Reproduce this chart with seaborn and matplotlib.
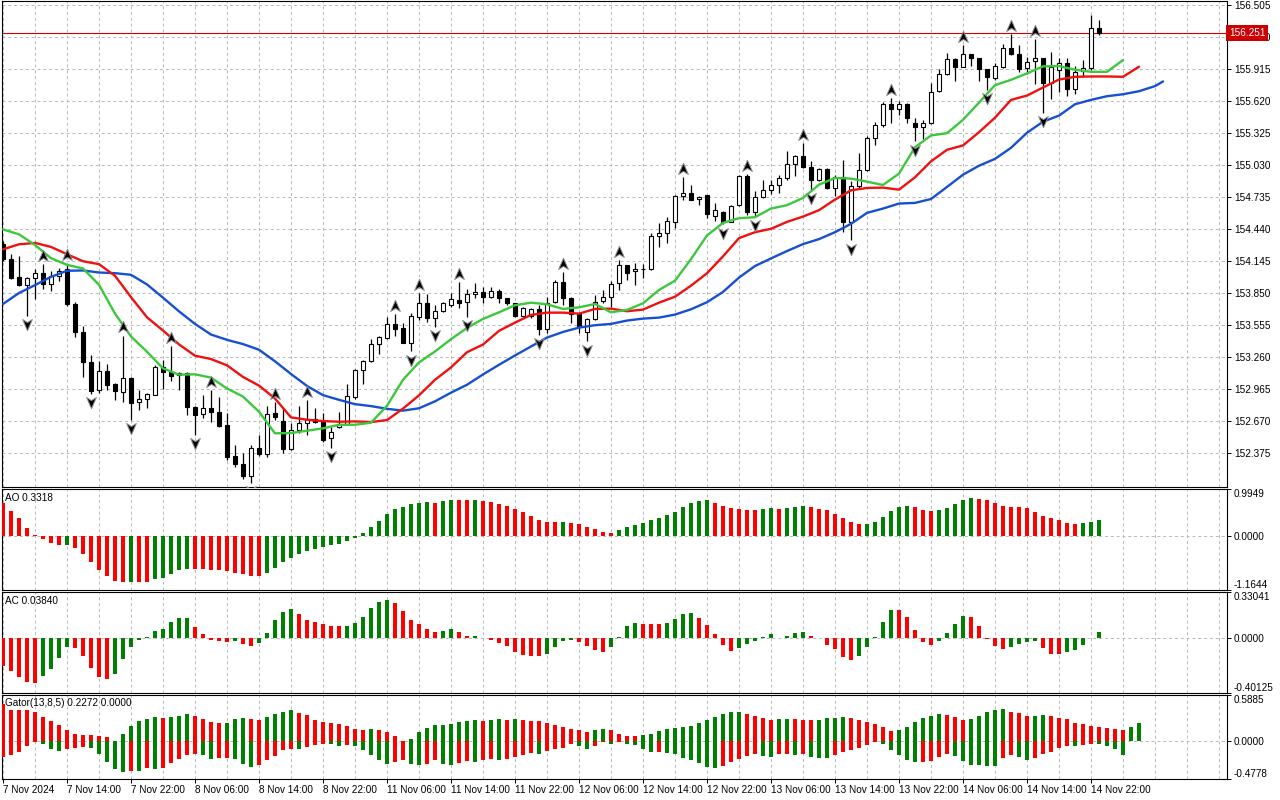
import numpy as np
import matplotlib
matplotlib.use("Agg")
import matplotlib.pyplot as plt
from matplotlib.path import Path
from matplotlib.markers import MarkerStyle
from matplotlib.ticker import FixedLocator
from matplotlib.transforms import blended_transform_factory
import seaborn as sns

sns.set_theme(style="white")
plt.rcParams["font.family"] = ["Liberation Sans", "DejaVu Sans"]

# ------------------------------------------------------------------ data
time_labels = ["7 Nov 2024", "7 Nov 14:00", "7 Nov 22:00", "8 Nov 06:00", "8 Nov 14:00",
               "8 Nov 22:00", "11 Nov 06:00", "11 Nov 14:00", "11 Nov 22:00", "12 Nov 06:00",
               "12 Nov 14:00", "12 Nov 22:00", "13 Nov 06:00", "13 Nov 14:00", "13 Nov 22:00",
               "14 Nov 06:00", "14 Nov 14:00", "14 Nov 22:00"]
label_bars = [0, 8, 16, 24, 32, 40, 48, 56, 64, 72, 80, 88, 96, 104, 112, 120, 128, 136]

opens = [
    154.308, 154.165, 154.003, 153.929, 153.990, 154.036, 153.935, 154.012, 154.073, 153.752,
    153.498, 153.216, 152.963, 153.131, 153.017, 152.941, 153.073, 152.849, 152.880, 152.917,
    153.170, 153.125, 153.094, 153.119, 152.803, 152.733, 152.797, 152.758, 152.635, 152.351,
    152.274, 152.170, 152.421, 152.366, 152.742, 152.672, 152.415, 152.589, 152.650, 152.690,
    152.666, 152.513, 152.620, 152.644, 152.895, 153.140, 153.222, 153.385, 153.440, 153.568,
    153.528, 153.396, 153.636, 153.758, 153.620, 153.685, 153.746, 153.789, 153.767, 153.841,
    153.859, 153.819, 153.875, 153.804, 153.758, 153.645, 153.645, 153.703, 153.519, 153.767,
    153.957, 153.804, 153.660, 153.498, 153.611, 153.783, 153.819, 153.942, 154.108, 154.055,
    154.071, 154.071, 154.377, 154.411, 154.509, 154.745, 154.779, 154.720, 154.754, 154.561,
    154.598, 154.506, 154.662, 154.935, 154.598, 154.739, 154.807, 154.852, 154.914, 155.042,
    155.119, 155.012, 154.892, 154.996, 154.822, 154.923, 154.506, 154.837, 154.984, 155.281,
    155.404, 155.594, 155.548, 155.594, 155.419, 155.382, 155.419, 155.716, 155.869, 156.007,
    155.940, 156.053, 156.016, 155.915, 155.833, 155.940, 156.110, 156.054, 155.924, 155.992,
    156.017, 155.791, 155.909, 155.977, 155.739, 155.900, 155.924, 156.295]
highs = [
    154.333, 154.211, 154.195, 154.003, 154.073, 154.119, 154.058, 154.088, 154.125, 153.767,
    153.553, 153.284, 153.222, 153.195, 153.024, 153.461, 153.079, 152.962, 152.932, 153.186,
    153.232, 153.360, 153.125, 153.125, 152.813, 152.911, 152.956, 152.895, 152.742, 152.452,
    152.375, 152.452, 152.543, 152.810, 152.849, 152.788, 152.657, 152.810, 152.865, 152.794,
    152.748, 152.620, 152.758, 153.018, 153.155, 153.232, 153.431, 153.461, 153.629, 153.660,
    153.580, 153.666, 153.850, 153.844, 153.743, 153.773, 153.850, 153.951, 153.887, 153.942,
    153.911, 153.911, 153.887, 153.810, 153.764, 153.727, 153.712, 153.743, 153.819, 153.973,
    154.049, 153.819, 153.666, 153.620, 153.835, 153.881, 153.967, 154.157, 154.111, 154.126,
    154.120, 154.402, 154.500, 154.555, 154.754, 154.923, 154.852, 154.748, 154.761, 154.684,
    154.607, 154.669, 154.938, 154.953, 154.791, 154.898, 154.898, 154.944, 155.159, 155.128,
    155.235, 155.067, 155.006, 155.006, 154.938, 155.082, 154.883, 155.143, 155.297, 155.428,
    155.618, 155.649, 155.624, 155.603, 155.465, 155.450, 155.787, 155.915, 156.062, 156.016,
    156.139, 156.056, 156.019, 155.918, 155.970, 156.150, 156.242, 156.140, 156.032, 156.193,
    156.020, 156.073, 156.017, 156.017, 155.946, 156.001, 156.418, 156.372]
lows = [
    154.149, 153.981, 153.920, 153.645, 153.798, 153.889, 153.868, 153.966, 153.736, 153.446,
    153.079, 152.926, 152.932, 152.956, 152.865, 152.849, 152.681, 152.773, 152.788, 152.911,
    152.972, 153.042, 152.956, 152.727, 152.543, 152.696, 152.666, 152.614, 152.314, 152.253,
    152.137, 152.100, 152.351, 152.345, 152.681, 152.375, 152.406, 152.559, 152.543, 152.650,
    152.482, 152.421, 152.605, 152.635, 152.880, 153.018, 153.216, 153.293, 153.431, 153.461,
    153.390, 153.314, 153.605, 153.590, 153.544, 153.678, 153.727, 153.718, 153.636, 153.804,
    153.758, 153.804, 153.758, 153.743, 153.636, 153.636, 153.620, 153.467, 153.482, 153.758,
    153.743, 153.574, 153.482, 153.406, 153.605, 153.758, 153.721, 153.881, 153.973, 153.927,
    153.988, 154.065, 154.279, 154.316, 154.448, 154.708, 154.708, 154.668, 154.546, 154.516,
    154.485, 154.506, 154.653, 154.577, 154.555, 154.730, 154.770, 154.776, 154.898, 154.929,
    155.005, 154.806, 154.883, 154.812, 154.745, 154.414, 154.338, 154.822, 154.975, 155.220,
    155.388, 155.425, 155.496, 155.419, 155.251, 155.272, 155.413, 155.704, 155.863, 155.811,
    155.934, 155.946, 155.808, 155.725, 155.817, 155.924, 156.048, 155.893, 155.872, 155.779,
    155.513, 155.640, 155.708, 155.668, 155.686, 155.847, 155.909, 156.233]
closes = [
    154.165, 153.996, 153.926, 153.990, 154.036, 153.935, 154.012, 154.058, 153.752, 153.492,
    153.216, 152.950, 153.131, 153.008, 152.950, 153.073, 152.840, 152.880, 152.920, 153.170,
    153.125, 153.088, 153.119, 152.803, 152.727, 152.797, 152.758, 152.626, 152.345, 152.277,
    152.170, 152.421, 152.366, 152.733, 152.706, 152.415, 152.589, 152.657, 152.690, 152.666,
    152.498, 152.574, 152.644, 152.901, 153.140, 153.222, 153.385, 153.446, 153.568, 153.522,
    153.396, 153.642, 153.758, 153.620, 153.691, 153.758, 153.795, 153.764, 153.841, 153.859,
    153.819, 153.875, 153.804, 153.764, 153.645, 153.712, 153.703, 153.519, 153.764, 153.957,
    153.804, 153.660, 153.544, 153.611, 153.773, 153.819, 153.933, 154.108, 154.040, 154.074,
    154.074, 154.377, 154.411, 154.518, 154.745, 154.779, 154.714, 154.739, 154.583, 154.623,
    154.506, 154.659, 154.935, 154.598, 154.739, 154.800, 154.852, 154.914, 155.045, 155.119,
    155.012, 154.892, 154.996, 154.822, 154.923, 154.506, 154.843, 154.984, 155.281, 155.404,
    155.594, 155.548, 155.594, 155.465, 155.382, 155.419, 155.710, 155.869, 156.007, 155.940,
    156.053, 156.016, 155.915, 155.842, 155.946, 156.110, 156.054, 155.918, 155.986, 156.017,
    155.791, 155.940, 155.971, 155.730, 155.893, 155.924, 156.295, 156.251]
last_price = 156.251

fractal_up_bars = [5, 8, 15, 21, 26, 34, 38, 49, 52, 57, 70, 77, 85, 93, 100, 111, 120, 126, 129]
fractal_down_bars = [3, 11, 16, 24, 31, 41, 51, 54, 58, 67, 73, 90, 94, 101, 106, 114, 123, 130]

# Alligator lines (sampled every second bar)
lips_bars = list(range(0, 141, 2))
lips = [154.440, 154.394, 154.296, 154.174, 154.113, 154.079, 153.929, 153.663, 153.452, 153.311,
        153.158, 153.100, 153.103, 153.073, 152.972, 152.898, 152.758, 152.559, 152.562, 152.583,
        152.605, 152.638, 152.638, 152.657, 152.813, 153.053, 153.213, 153.314, 153.427, 153.531,
        153.614, 153.675, 153.740, 153.764, 153.749, 153.706, 153.721, 153.752, 153.675, 153.697,
        153.758, 153.881, 153.967, 154.166, 154.384, 154.500, 154.543, 154.552, 154.632, 154.663,
        154.730, 154.852, 154.914, 154.908, 154.880, 154.849, 154.954, 155.198, 155.306, 155.327,
        155.450, 155.609, 155.770, 155.819, 155.878, 155.943, 155.946, 155.912, 155.893, 155.893,
        156.001]
teeth_bars = list(range(0, 143, 2))
teeth = [154.256, 154.302, 154.315, 154.278, 154.211, 154.146, 154.119, 154.012, 153.815, 153.629,
         153.507, 153.379, 153.275, 153.244, 153.186, 153.079, 152.999, 152.880, 152.706, 152.684,
         152.672, 152.666, 152.669, 152.663, 152.681, 152.787, 152.909, 153.053, 153.167, 153.307,
         153.378, 153.504, 153.580, 153.651, 153.672, 153.672, 153.663, 153.706, 153.709, 153.685,
         153.700, 153.764, 153.819, 153.921, 154.035, 154.191, 154.359, 154.414, 154.445, 154.509,
         154.558, 154.617, 154.715, 154.800, 154.822, 154.825, 154.806, 154.920, 155.067, 155.174,
         155.214, 155.336, 155.470, 155.634, 155.674, 155.748, 155.822, 155.847, 155.850, 155.850,
         155.847, 155.940]
jaw_bars = list(range(0, 145, 2)) + [145]
jaw = [153.752, 153.853, 153.926, 154.002, 154.058, 154.061, 154.042, 154.036, 154.021, 153.932,
       153.810, 153.684, 153.568, 153.470, 153.421, 153.382, 153.330, 153.223, 153.106, 152.996,
       152.911, 152.868, 152.828, 152.810, 152.785, 152.768, 152.790, 152.854, 152.934, 153.007,
       153.102, 153.191, 153.277, 153.360, 153.442, 153.494, 153.534, 153.556, 153.568, 153.599,
       153.617, 153.626, 153.654, 153.703, 153.768, 153.863, 153.995, 154.102, 154.172, 154.240,
       154.304, 154.350, 154.414, 154.491, 154.592, 154.632, 154.678, 154.684, 154.720, 154.831,
       154.944, 155.027, 155.090, 155.192, 155.331, 155.433, 155.489, 155.594, 155.634, 155.668,
       155.686, 155.714, 155.761, 155.804]

price_ticks = [156.505, 156.210, 155.915, 155.620, 155.325, 155.030, 154.735, 154.440,
               154.145, 153.850, 153.555, 153.260, 152.965, 152.670, 152.375]
price_range = (152.064, 156.546)

ao_values = [
    0.687, 0.531, 0.368, 0.170, 0.007, -0.078, -0.163, -0.198, -0.195, -0.269,
    -0.396, -0.566, -0.736, -0.871, -0.977, -0.991, -0.985, -0.990, -0.995, -0.927,
    -0.906, -0.821, -0.743, -0.708, -0.712, -0.722, -0.743, -0.745, -0.765, -0.800,
    -0.821, -0.864, -0.866, -0.800, -0.694, -0.566, -0.481, -0.396, -0.340, -0.297,
    -0.248, -0.198, -0.177, -0.127, -0.050, 0.045, 0.175, 0.320, 0.460, 0.560,
    0.620, 0.670, 0.690, 0.710, 0.700, 0.730, 0.770, 0.765, 0.750, 0.770,
    0.740, 0.720, 0.680, 0.640, 0.560, 0.500, 0.410, 0.330, 0.300, 0.280,
    0.300, 0.270, 0.250, 0.180, 0.130, 0.070, 0.050, 0.110, 0.190, 0.220,
    0.260, 0.330, 0.370, 0.430, 0.500, 0.620, 0.690, 0.730, 0.750, 0.700,
    0.640, 0.580, 0.560, 0.555, 0.550, 0.560, 0.580, 0.570, 0.580, 0.600,
    0.630, 0.620, 0.570, 0.540, 0.470, 0.370, 0.280, 0.240, 0.250, 0.280,
    0.390, 0.530, 0.600, 0.640, 0.600, 0.540, 0.520, 0.540, 0.580, 0.670,
    0.770, 0.810, 0.790, 0.750, 0.690, 0.640, 0.620, 0.600, 0.595, 0.500,
    0.410, 0.370, 0.330, 0.260, 0.255, 0.265, 0.280, 0.3318]
ao_colors = ("RRRRRRRRGR" "RRRRRRGRRG" "GGGGRRRRRR" "RRRGGGGGGG" "GGGGGGGGGG"
             "GGGGRGGRRG" "RRRRRRRRRR" "GRRRRRRGGG" "GGGGGGGGGR" "RRRRRGGRGG"
             "GRRRRRRRGG" "GGGGRRRGGG" "GGRRRRRRRR" "RRRRRGGG")
ao_range = (-1.1644, 0.9949)

ac_values = [
    -0.208, -0.244, -0.288, -0.322, -0.332, -0.281, -0.227, -0.150, -0.070, -0.072,
    -0.136, -0.223, -0.288, -0.300, -0.264, -0.155, -0.068, -0.017, 0.002, 0.046,
    0.060, 0.111, 0.140, 0.142, 0.075, 0.024, -0.017, -0.027, -0.034, -0.022,
    -0.044, -0.060, -0.039, 0.031, 0.126, 0.184, 0.206, 0.170, 0.128, 0.111,
    0.100, 0.085, 0.082, 0.083, 0.104, 0.148, 0.213, 0.257, 0.271, 0.249,
    0.191, 0.126, 0.097, 0.065, 0.044, 0.045, 0.060, 0.039, 0.010, 0.012,
    -0.002, -0.015, -0.039, -0.060, -0.104, -0.126, -0.133, -0.134, -0.119, -0.068,
    -0.022, -0.020, -0.031, -0.060, -0.090, -0.104, -0.068, 0.007, 0.082, 0.104,
    0.097, 0.096, 0.095, 0.104, 0.133, 0.169, 0.177, 0.140, 0.090, 0.024,
    -0.053, -0.097, -0.075, -0.046, -0.022, 0.007, 0.024, -0.001, 0.015, 0.031,
    0.039, 0.015, -0.002, -0.053, -0.082, -0.140, -0.162, -0.133, -0.068, 0.007,
    0.111, 0.198, 0.197, 0.148, 0.053, -0.031, -0.053, -0.022, 0.031, 0.097,
    0.155, 0.148, 0.082, -0.007, -0.060, -0.082, -0.068, -0.046, -0.031, -0.022,
    -0.075, -0.119, -0.120, -0.104, -0.090, -0.053, -0.002, 0.0384]
ac_colors = ("RRRRRGGGGR" "RRRRGGGGGG" "GGGGRRRRRG" "RRGGGGGRRR" "RRRGGGGGGR"
             "RRRRRGGRRG" "RRRRRRRRGG" "GGRRRRGGGG" "RRRGGGGRRR" "RRGGGGGRGG"
             "GRRRRRRGGG" "GGRRRRRGGG" "GRRRRRGGGG" "RRRGGGGG")
ac_range = (-0.40125, 0.33041)

gator_upper = [
    0.480, 0.395, 0.393, 0.392, 0.371, 0.308, 0.257, 0.202, 0.139, 0.097,
    0.076, 0.075, 0.074, 0.051, 0.010, 0.089, 0.190, 0.257, 0.282, 0.303,
    0.291, 0.303, 0.316, 0.341, 0.316, 0.278, 0.240, 0.228, 0.229, 0.278,
    0.291, 0.290, 0.265, 0.303, 0.341, 0.379, 0.392, 0.366, 0.329, 0.265,
    0.240, 0.228, 0.215, 0.190, 0.152, 0.150, 0.152, 0.150, 0.114, 0.063,
    0.010, 0.030, 0.114, 0.164, 0.202, 0.203, 0.215, 0.240, 0.253, 0.265,
    0.264, 0.266, 0.278, 0.277, 0.279, 0.265, 0.264, 0.253, 0.228, 0.202,
    0.177, 0.160, 0.139, 0.118, 0.139, 0.152, 0.139, 0.097, 0.063, 0.062,
    0.076, 0.097, 0.126, 0.152, 0.164, 0.177, 0.190, 0.228, 0.266, 0.303,
    0.341, 0.367, 0.368, 0.341, 0.316, 0.291, 0.266, 0.278, 0.282, 0.278,
    0.266, 0.265, 0.266, 0.291, 0.292, 0.303, 0.291, 0.266, 0.240, 0.215,
    0.177, 0.126, 0.139, 0.177, 0.240, 0.291, 0.316, 0.341, 0.329, 0.303,
    0.266, 0.278, 0.316, 0.367, 0.392, 0.405, 0.379, 0.354, 0.316, 0.317,
    0.329, 0.328, 0.291, 0.278, 0.228, 0.215, 0.190, 0.177, 0.164, 0.152,
    0.150, 0.177, 0.2272]
gator_upper_colors = ("RRRRRRRRRR" "RRRRRGGGGG" "RGGGRRRRGG" "GRRGGGGRRR" "RRRRRRGRRR"
                      "RGGGGGGGGG" "RGGRGRRRRR" "RRRRGGRRRR" "GGGGGGGGGG" "GGGRRRRGGR"
                      "RRGGGGRRRR" "RRGGGGGGRR" "RGGGGGRRRG" "GRRRRRRRRR" "RGG")
gator_lower = [
    -0.198, -0.177, -0.135, -0.063, -0.008, -0.038, -0.101, -0.122, -0.093, -0.080,
    -0.072, -0.084, -0.164, -0.261, -0.354, -0.388, -0.379, -0.380, -0.337, -0.345,
    -0.337, -0.274, -0.219, -0.169, -0.156, -0.177, -0.219, -0.207, -0.205, -0.219,
    -0.282, -0.324, -0.303, -0.240, -0.190, -0.114, -0.101, -0.102, -0.072, -0.051,
    -0.038, -0.039, -0.059, -0.042, -0.060, -0.114, -0.177, -0.240, -0.282, -0.261,
    -0.240, -0.282, -0.303, -0.282, -0.240, -0.282, -0.303, -0.270, -0.250, -0.260,
    -0.240, -0.230, -0.240, -0.220, -0.200, -0.170, -0.150, -0.160, -0.120, -0.100,
    -0.080, -0.030, -0.059, -0.101, -0.063, -0.008, -0.038, -0.008, -0.038, -0.051,
    -0.101, -0.135, -0.133, -0.143, -0.164, -0.211, -0.240, -0.274, -0.325, -0.337,
    -0.316, -0.261, -0.223, -0.190, -0.164, -0.190, -0.202, -0.164, -0.162, -0.177,
    -0.164, -0.202, -0.211, -0.212, -0.177, -0.135, -0.114, -0.084, -0.051, -0.008,
    -0.038, -0.114, -0.177, -0.240, -0.261, -0.260, -0.249, -0.202, -0.164, -0.190,
    -0.249, -0.303, -0.304, -0.316, -0.317, -0.211, -0.177, -0.202, -0.236, -0.211,
    -0.164, -0.139, -0.084, -0.059, -0.060, -0.046, -0.034, -0.038, -0.060, -0.100,
    -0.169]
gator_lower_colors = ("RRRRRGGGRR" "RGGGGGRGRG" "RRRRRGGRRG" "GGRRRRRGRR" "RGGRGGGGGR"
                      "RGGRRGGRRG" "RRGRRRRGRR" "RRGGRRGRGG" "GGRGGGGGGG" "RRRRRGGRRG"
                      "RGGGRRRRRR" "GGGGGRRRRG" "GGGGGRRGGR" "RRRRGRRGGG" "G")
gator_range = (-0.4778, 0.5885)

# ------------------------------------------------------------------ style
GREEN = "#008000"
RED = "#ff0000"
GRID = "#b8b8b8"
FS = 7.2


def colours(code, n):
    code = (code + code[-1] * n)[:n]
    return [GREEN if ch == "G" else RED for ch in code]


W, H = 1280, 800
fig = plt.figure(figsize=(12.8, 8), dpi=100)
fig.patch.set_facecolor("white")


def rect(x0, y0, x1, y1):
    return [x0 / W, 1 - y1 / H, (x1 - x0) / W, (y1 - y0) / H]


ax_main = fig.add_axes(rect(2, 1, 1227, 487))
ax_ao = fig.add_axes(rect(2, 489, 1227, 590))
ax_ac = fig.add_axes(rect(2, 592, 1227, 693))
ax_gt = fig.add_axes(rect(2, 695, 1227, 779))
axes = [ax_main, ax_ao, ax_ac, ax_gt]

grid_minor = [b for b in range(4, 153, 4) if b not in label_bars]

for a in axes:
    a.set_facecolor("white")
    a.set_xlim(-0.125, 153.0)
    a.set_axisbelow(True)
    for s in a.spines.values():
        s.set_color("black")
        s.set_linewidth(0.8)
    a.yaxis.tick_right()
    a.tick_params(axis="y", which="major", right=True, direction="out", length=3,
                  width=0.7, pad=2, labelsize=FS, colors="black")
    a.xaxis.set_major_locator(FixedLocator(label_bars))
    a.xaxis.set_minor_locator(FixedLocator(grid_minor))
    a.tick_params(axis="x", which="minor", length=0)
    a.grid(True, which="both", axis="x", color=GRID, linestyle=(0, (3, 3)), linewidth=0.7)
    a.grid(True, which="major", axis="y", color=GRID, linestyle=(0, (3, 3)), linewidth=0.7)

for a in axes[:-1]:
    a.tick_params(axis="x", which="major", bottom=False, labelbottom=False, length=0)

# ------------------------------------------------------------------ main chart
ax = ax_main
o, h, l, c = (np.asarray(v) for v in (opens, highs, lows, closes))
bars = np.arange(len(o))
bull = c >= o
ax.vlines(bars, l, h, colors="black", linewidth=0.9, zorder=3)
ax.bar(bars, np.maximum(np.abs(c - o), 0.005), bottom=np.minimum(o, c), width=0.62,
       color=np.where(bull, "white", "black"), edgecolor="black", linewidth=0.8, zorder=4)

sns.lineplot(x=jaw_bars, y=jaw, ax=ax, color="#1650d2", linewidth=1.7, zorder=5)
sns.lineplot(x=teeth_bars, y=teeth, ax=ax, color="#f01010", linewidth=1.7, zorder=6)
sns.lineplot(x=lips_bars, y=lips, ax=ax, color="#3cc83c", linewidth=1.7, zorder=7)

up_marker = MarkerStyle(Path([(0, 1), (0.78, -0.8), (0, -0.3), (-0.78, -0.8), (0, 1)],
                             [Path.MOVETO, Path.LINETO, Path.LINETO, Path.LINETO, Path.CLOSEPOLY]))
dn_marker = MarkerStyle(Path([(0, -1), (0.78, 0.8), (0, 0.3), (-0.78, 0.8), (0, -1)],
                             [Path.MOVETO, Path.LINETO, Path.LINETO, Path.LINETO, Path.CLOSEPOLY]))
frac_gap = 0.075
fu = np.asarray(fractal_up_bars)
fd = np.asarray(fractal_down_bars)
ax.scatter(fu, h[fu] + frac_gap, marker=up_marker, s=80, c="black",
           edgecolors="#8a8a8a", linewidths=0.7, zorder=8)
ax.scatter(fd, l[fd] - frac_gap, marker=dn_marker, s=80, c="black",
           edgecolors="#8a8a8a", linewidths=0.7, zorder=8)

ax.axhline(last_price, color="#d40000", linewidth=0.8, zorder=2)
ax.set_ylim(*price_range)
ax.set_yticks(price_ticks)
ax.set_yticklabels([f"{p:.3f}" for p in price_ticks])
trans = blended_transform_factory(ax.transAxes, ax.transData)
ax.text(1.0016, last_price, f"{last_price:.3f}", transform=trans, ha="left", va="center",
        color="white", fontsize=FS, zorder=30, clip_on=False,
        bbox=dict(boxstyle="square,pad=0.28", facecolor="#cc0000", edgecolor="none"))
ax.set_xlabel("")
ax.set_ylabel("")


# ------------------------------------------------------------------ oscillators
def osc_axis(a, lo, hi, lo_txt, hi_txt, title):
    a.set_ylim(lo, hi)
    a.set_yticks([lo, 0.0, hi])
    labs = a.set_yticklabels([lo_txt, "0.0000", hi_txt])
    labs[0].set_va("bottom")
    labs[2].set_va("top")
    a.text(0.0025, 0.965, title, transform=a.transAxes, ha="left", va="top",
           fontsize=FS, color="black", zorder=10)
    a.set_xlabel("")
    a.set_ylabel("")


ax_ao.bar(np.arange(len(ao_values)), ao_values, width=0.55,
          color=colours(ao_colors, len(ao_values)), linewidth=0, zorder=3)
osc_axis(ax_ao, *ao_range, "-1.1644", "0.9949", "AO 0.3318")

ax_ac.bar(np.arange(len(ac_values)), ac_values, width=0.55,
          color=colours(ac_colors, len(ac_values)), linewidth=0, zorder=3)
osc_axis(ax_ac, *ac_range, "-0.40125", "0.33041", "AC 0.03840")

ax_gt.bar(np.arange(len(gator_upper)), gator_upper, width=0.6,
          color=colours(gator_upper_colors, len(gator_upper)), linewidth=0, zorder=3)
ax_gt.bar(np.arange(len(gator_lower)), gator_lower, width=0.6,
          color=colours(gator_lower_colors, len(gator_lower)), linewidth=0, zorder=3)
osc_axis(ax_gt, *gator_range, "-0.4778", "0.5885", "Gator(13,8,5) 0.2272 0.0000")

ax_gt.set_xticklabels(time_labels)
ax_gt.tick_params(axis="x", which="major", bottom=True, direction="out", length=3,
                  width=0.7, pad=1.5, labelsize=FS, colors="black")
for lab in ax_gt.get_xticklabels():
    lab.set_ha("left")

fig.savefig("out.png", dpi=100)
